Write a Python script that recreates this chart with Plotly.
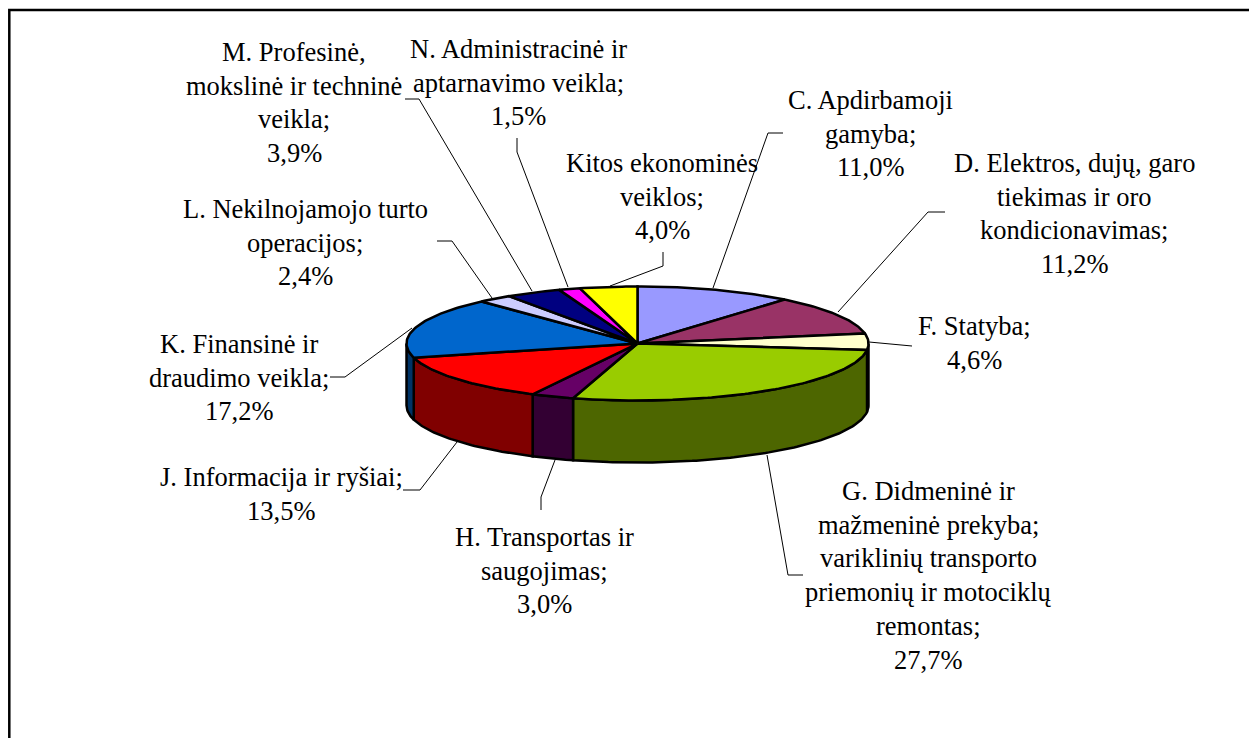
import math
import plotly.graph_objects as go

# ---- data ----
categories = ["C. Apdirbamoji gamyba", "D. Elektros, dujų, garo tiekimas ir oro kondicionavimas",
              "F. Statyba", "G. Didmeninė ir mažmeninė prekyba; variklinių transporto priemonių ir motociklų remontas",
              "H. Transportas ir saugojimas", "J. Informacija ir ryšiai", "K. Finansinė ir draudimo veikla",
              "L. Nekilnojamojo turto operacijos", "M. Profesinė, mokslinė ir techninė veikla",
              "N. Administracinė ir aptarnavimo veikla", "Kitos ekonominės veiklos"]
values = [11.0, 11.2, 4.6, 27.7, 3.0, 13.5, 17.2, 2.4, 3.9, 1.5, 4.0]
top_colors = ["#9999FF", "#993366", "#FFFFCC", "#99CC00", "#660066", "#FF0000",
              "#0066CC", "#CCCCFF", "#000080", "#FF00FF", "#FFFF00"]
side_colors = ["#4D4D80", "#4D1A33", "#808066", "#4D6600", "#330033", "#800000",
               "#003366", "#666680", "#000040", "#800080", "#808000"]
label_lines = [
    ["C. Apdirbamoji", "gamyba;", "11,0%"],
    ["D. Elektros, dujų, garo", "tiekimas ir oro", "kondicionavimas;", "11,2%"],
    ["F. Statyba;", "4,6%"],
    ["G. Didmeninė ir", "mažmeninė prekyba;", "variklinių transporto", "priemonių ir motociklų", "remontas;", "27,7%"],
    ["H. Transportas ir", "saugojimas;", "3,0%"],
    ["J. Informacija ir ryšiai;", "13,5%"],
    ["K. Finansinė ir", "draudimo veikla;", "17,2%"],
    ["L. Nekilnojamojo turto", "operacijos;", "2,4%"],
    ["M. Profesinė,", "mokslinė ir techninė", "veikla;", "3,9%"],
    ["N. Administracinė ir", "aptarnavimo veikla;", "1,5%"],
    ["Kitos ekonominės", "veiklos;", "4,0%"],
]
label_x = [870, 1074, 974, 928, 544, 281, 239, 305, 294, 518, 662]
label_y = [100, 163, 326, 491, 537, 477, 344, 209, 52, 49, 163]
leader_paths = [
    [(713, 288), (768, 133), (783, 133)],
    [(838, 312), (928, 212), (945, 212)],
    [(869, 342), (912, 346)],
    [(767, 455), (788, 575), (803, 575)],
    [(555, 460), (541, 497), (541, 510)],
    [(457, 442), (420, 490), (403, 490)],
    [(412, 328), (345, 377), (330, 377)],
    [(492, 298), (452, 241), (437, 241)],
    [(532, 291), (419, 99), (405, 99)],
    [(568, 287), (517, 152), (517, 138)],
    [(610, 286), (663, 266), (663, 252)],
]

# ---- pie geometry (page pixels; the axes run 1:1 with the page) ----
CX, CY, RX, RY, DEPTH = 637.5, 343.5, 231, 57, 62
FONT = "Liberation Serif"
FS = 26.5
LINE_H = 33.7
PAGE_MARGIN = 8  # default body margin of the page
PAGE_W, PAGE_H = 1257, 738


def pt(deg, dy=0):
    r = math.radians(deg)
    return CX + RX * math.sin(r), CY - RY * math.cos(r) + dy


def arc(a, b, dy=0):
    n = max(2, int(abs(b - a)) + 2)
    return [pt(a + (b - a) * i / (n - 1), dy) for i in range(n)]


fig = go.Figure()
total = sum(values)
start = 0.0
spans = []
for v in values:
    end = start + v / total * 360
    spans.append((start, end))
    start = end

# side walls of the front half
for (a, b), col, name in zip(spans, side_colors, categories):
    lo, hi = max(a, 90), min(b, 270)
    if lo >= hi:
        continue
    pts = arc(lo, hi) + arc(hi, lo, DEPTH)
    pts.append(pts[0])
    fig.add_trace(go.Scatter(x=[p[0] for p in pts], y=[p[1] for p in pts], mode="lines", fill="toself",
                             fillcolor=col, line=dict(color="black", width=2.5), hoverinfo="skip",
                             showlegend=False, name=name))

# top faces
for (a, b), col, name, v in zip(spans, top_colors, categories, values):
    pts = [(CX, CY)] + arc(a, b) + [(CX, CY)]
    fig.add_trace(go.Scatter(x=[p[0] for p in pts], y=[p[1] for p in pts], mode="lines", fill="toself",
                             fillcolor=col, line=dict(color="black", width=2.5), showlegend=False,
                             name=name, text=f"{v}%", hoverinfo="name+text"))

shapes = []
for path in leader_paths:
    d = "M " + " L ".join(f"{x},{y}" for x, y in path)
    shapes.append(dict(type="path", path=d, xref="x", yref="y", line=dict(color="black", width=1)))
# outer frame: only the top and left edges fall inside the picture
shapes.append(dict(type="path", path=f"M 9.3,{PAGE_H + 5} L 9.3,10 L {PAGE_W + 5},10", xref="x", yref="y",
                   line=dict(color="black", width=2.5)))

annotations = []
for lines, x, y in zip(label_lines, label_x, label_y):
    for i, line in enumerate(lines):
        annotations.append(dict(x=x, y=y + i * LINE_H, xref="x", yref="y", text=line, showarrow=False,
                                xanchor="center", yanchor="middle",
                                font=dict(family=FONT, size=FS, color="black")))

fig.update_layout(
    width=PAGE_W - PAGE_MARGIN, height=PAGE_H - PAGE_MARGIN, margin=dict(l=0, r=0, t=0, b=0, pad=0),
    paper_bgcolor="white", plot_bgcolor="white", showlegend=False,
    xaxis=dict(range=[PAGE_MARGIN, PAGE_W], visible=False, fixedrange=True),
    yaxis=dict(range=[PAGE_H, PAGE_MARGIN], visible=False, fixedrange=True),
    shapes=shapes, annotations=annotations,
)
fig.write_html("out.html", config={"displayModeBar": False})
